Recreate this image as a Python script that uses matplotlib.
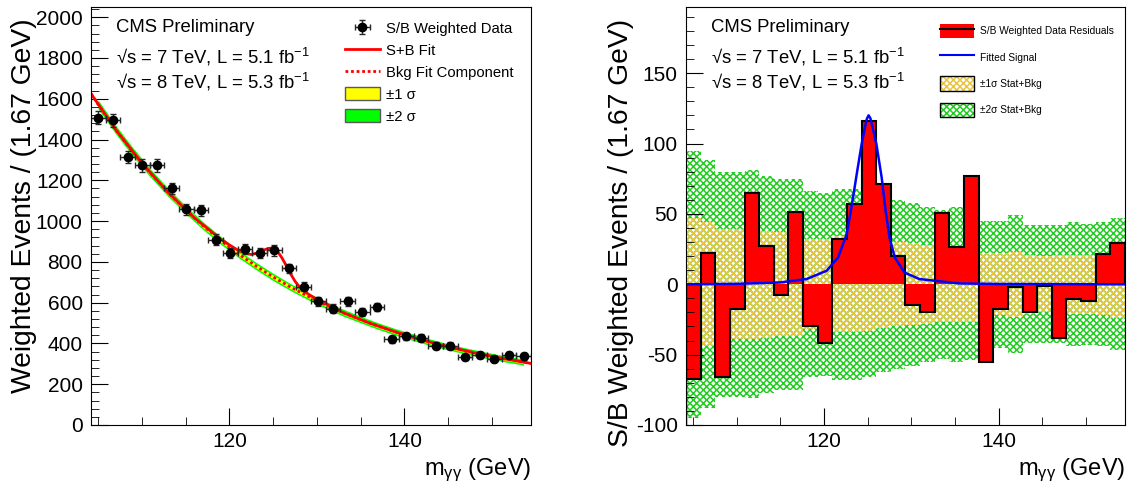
import numpy as np
import matplotlib
matplotlib.use("Agg")
import matplotlib.pyplot as plt
from matplotlib.patches import Patch
from matplotlib.lines import Line2D
from matplotlib.ticker import MultipleLocator

plt.rcParams['font.family'] = ['Liberation Sans', 'DejaVu Sans']
plt.rcParams['mathtext.fontset'] = 'custom'
plt.rcParams['mathtext.rm'] = 'Liberation Sans'
plt.rcParams['mathtext.it'] = 'Liberation Sans:italic'
plt.rcParams['axes.unicode_minus'] = False
plt.rcParams['hatch.linewidth'] = 1.1

# binning (30 bins of ~1.67 GeV)
bin_lo = 104.2
bin_width = 1.675
n_bins = 30
edges = bin_lo + bin_width * np.arange(n_bins + 1)
centers = 0.5 * (edges[:-1] + edges[1:])

# left panel: S/B weighted data
data_y = [1507, 1494, 1314, 1273, 1273, 1160, 1057, 1052, 909, 843,
          865, 843, 856, 768, 678, 608, 570, 608, 554, 578,
          420, 435, 428, 389, 389, 333, 343, 323, 343, 337]
data_err = [33, 33, 31, 30, 30, 29, 28, 28, 26, 25,
            25, 25, 25, 24, 23, 22, 21, 22, 21, 21,
            18, 18, 18, 17, 17, 16, 16, 16, 16, 16]

# background fit component and its bands
bkg_x = [104.2, 105, 107, 109, 111, 113, 115, 117, 119, 121, 123, 125, 127, 129,
         131, 133, 135, 137, 139, 141, 143, 145, 147, 149, 151, 153, 153.6, 154.45]
bkg_y = [1625, 1573, 1450, 1338, 1235, 1141, 1056, 977, 906, 840, 781, 726, 676, 631,
         589, 551, 517, 485, 456, 430, 405, 383, 363, 345, 328, 313, 308, 302]
band1 = [11, 11, 11, 10, 10, 10, 10, 10, 9, 9, 9, 9, 9, 9,
         8, 8, 8, 8, 8, 8, 8, 8, 8, 8, 7, 7, 7, 7]
band2 = [22, 22, 21, 21, 20, 20, 19, 19, 19, 18, 18, 18, 17, 17,
         17, 17, 16, 16, 16, 16, 16, 15, 15, 15, 15, 15, 15, 15]

# signal + background fit
sb_x = [104.2, 107, 110, 113, 116, 119, 120, 121, 122, 122.5, 123, 123.5, 124, 124.5,
        125, 125.3, 125.6, 126, 126.5, 127, 127.5, 128, 129, 130, 133, 136, 139,
        142, 145, 148, 151, 154.45]
sb_y = [1625, 1450, 1285, 1141, 1016, 912, 883, 857, 841, 836, 841, 850, 859, 866,
        869, 870, 845, 820, 782, 741, 705, 678, 642, 616, 551, 500, 456,
        417, 383, 354, 328, 302]

# right panel: residuals and stat+bkg bands
resid = [-67, 22.5, -66, -17.7, 65, 27, -7.8, 51, -30, -41.6,
         32.4, 57, 116, 71.4, 20, -15, -19.4, 50.5, 26.5, 76.8,
         -55, -17.3, -2.1, -19.6, -1.4, -38, -10.6, -12.1, 21.7, 29.3]
sig1 = [47, 44, 39, 39, 39, 38, 37, 37, 32, 32, 34, 34, 33, 31, 30,
        29, 28, 27, 27, 27, 22, 22, 23, 21, 20, 21, 21, 21, 22, 24]
sig2 = [95, 88, 80, 80, 81, 77, 75, 75, 66, 65, 68, 68, 66, 62, 60,
        58, 55, 53, 55, 54, 45, 45, 49, 42, 42, 42, 44, 43, 44, 47]

# fitted signal curve
sig_x = [104.2, 104.2, 110, 115, 118, 120.3, 121.6, 122.6, 123.2, 123.8, 124.3, 124.7,
         124.9, 125.1, 125.3, 125.5, 126.0, 126.6, 127.05, 127.5, 128.1, 129.2,
         130.9, 135.5, 140, 154.45]
sig_y = [-100, 0, 0.3, 1.3, 3.7, 9.6, 19, 35.6, 57, 80.5, 99.4, 112,
         117.5, 120, 118, 113, 99.4, 75.7, 52, 33, 19, 8.4,
         3.7, 0.6, 0.2, 0]

GREEN_H = '#22cc22'
YELLOW_H = '#e8c440'

fig = plt.figure(figsize=(11.31, 4.92), dpi=100)
ax1 = fig.add_axes([91 / 1131, 67 / 492, 440 / 1131, 418 / 492])
ax2 = fig.add_axes([686 / 1131, 67 / 492, 439 / 1131, 418 / 492])

# ---- left panel ----
bx = np.array(bkg_x)
by = np.array(bkg_y)
b1 = np.array(band1)
b2 = np.array(band2)
m = (bx >= 105) & (bx <= 153.6)
ax1.fill_between(bx[m], by[m] - b2[m], by[m] + b2[m], color='#00ff00', lw=0)
ax1.fill_between(bx[m], by[m] - b1[m], by[m] + b1[m], color='#ffff00', lw=0)
ax1.plot(bx, by, color='red', lw=2, ls=(0, (1, 1)))
ax1.plot(sb_x, sb_y, color='red', lw=2)
eb = ax1.errorbar(centers, data_y, xerr=bin_width / 2, yerr=data_err, fmt='o',
                  color='black', ms=6, ecolor='0.15', elinewidth=1, capsize=2,
                  capthick=1)

ax1.set_xlim(edges[0], edges[-1])
ax1.set_ylim(0, 2050)
ax1.xaxis.set_major_locator(MultipleLocator(20))
ax1.xaxis.set_minor_locator(MultipleLocator(5))
ax1.yaxis.set_major_locator(MultipleLocator(200))
ax1.yaxis.set_minor_locator(MultipleLocator(40))

h_data = eb
h_sb = Line2D([], [], color='red', lw=2)
h_bkg = Line2D([], [], color='red', lw=2, ls=(0, (1, 1)))
h_y = Patch(facecolor='#ffff00', edgecolor='0.35', lw=1)
h_g = Patch(facecolor='#00ff00', edgecolor='0.35', lw=1)
ax1.legend([h_data, h_sb, h_bkg, h_y, h_g],
           ['S/B Weighted Data', 'S+B Fit', 'Bkg Fit Component', '±1 σ', '±2 σ'],
           loc='upper left', bbox_to_anchor=(0.578, 0.966), frameon=False,
           fontsize=10.7, handlelength=2.3, handleheight=0.95, handletextpad=0.45,
           labelspacing=0.5, borderpad=0, borderaxespad=0)

# ---- right panel ----
ax2.stairs(np.array(sig2), edges, baseline=-np.array(sig2), fill=True,
           facecolor='white', edgecolor=GREEN_H, hatch='xxxxx', lw=0)
ax2.stairs(np.array(sig1), edges, baseline=-np.array(sig1), fill=True,
           facecolor='none', edgecolor=YELLOW_H, hatch='xxxxx', lw=0)
ax2.stairs(resid, edges, baseline=0, fill=True, color='red', lw=0)
ax2.stairs(resid, edges, baseline=0, color='black', lw=1.5)
ax2.plot(sig_x, sig_y, color='blue', lw=1.8)

ax2.set_xlim(edges[0], edges[-1])
ax2.set_ylim(-100, 197)
ax2.xaxis.set_major_locator(MultipleLocator(20))
ax2.xaxis.set_minor_locator(MultipleLocator(5))
ax2.yaxis.set_major_locator(MultipleLocator(50))
ax2.yaxis.set_minor_locator(MultipleLocator(10))

h_res = (Patch(facecolor='red', edgecolor='none'), Line2D([], [], color='black', lw=1.5))
h_sig = Line2D([], [], color='blue', lw=1.5)
h_1s = (Patch(facecolor='white', edgecolor=YELLOW_H, hatch='xxxxx', lw=0),
        Patch(facecolor='none', edgecolor='black', lw=1))
h_2s = (Patch(facecolor='white', edgecolor=GREEN_H, hatch='xxxxx', lw=0),
        Patch(facecolor='none', edgecolor='black', lw=1))
ax2.legend([h_res, h_sig, h_1s, h_2s],
           ['S/B Weighted Data Residuals', 'Fitted Signal',
            '±1σ Stat+Bkg', '±2σ Stat+Bkg'],
           loc='upper left', bbox_to_anchor=(0.579, 0.960), frameon=False,
           fontsize=7.3, handlelength=3.3, handleheight=1.85, handletextpad=0.65,
           labelspacing=1.15, borderpad=0, borderaxespad=0)

# ---- common styling ----
for ax, ylab in [(ax1, 'Weighted Events / (1.67 GeV)'),
                 (ax2, 'S/B Weighted Events / (1.67 GeV)')]:
    ax.tick_params(which='both', direction='in', top=False, right=False,
                   labelsize=15)
    ax.tick_params(which='major', length=12, pad=6)
    ax.tick_params(which='minor', length=6)
    ax.tick_params(axis='x', which='major', pad=5)
    ax.set_xlabel(r'm$_{\mathrm{γγ}}$ (GeV)', fontsize=17, ha='right')
    ax.xaxis.set_label_coords(1.0, -0.075)
    ax.set_ylabel(ylab, fontsize=20.3, ha='right')
    ax.text(0.057, 0.95, 'CMS Preliminary', transform=ax.transAxes,
            fontsize=13.3, va='center')
    ax.text(0.057, 0.881, '√s = 7 TeV, L = 5.1 fb$^{-1}$', transform=ax.transAxes,
            fontsize=13.3, va='center')
    ax.text(0.057, 0.821, '√s = 8 TeV, L = 5.3 fb$^{-1}$', transform=ax.transAxes,
            fontsize=13.3, va='center')

ax1.yaxis.set_label_coords(-0.122, 0.972)
ax2.yaxis.set_label_coords(-0.118, 0.972)

fig.savefig('out.png', dpi=100)
